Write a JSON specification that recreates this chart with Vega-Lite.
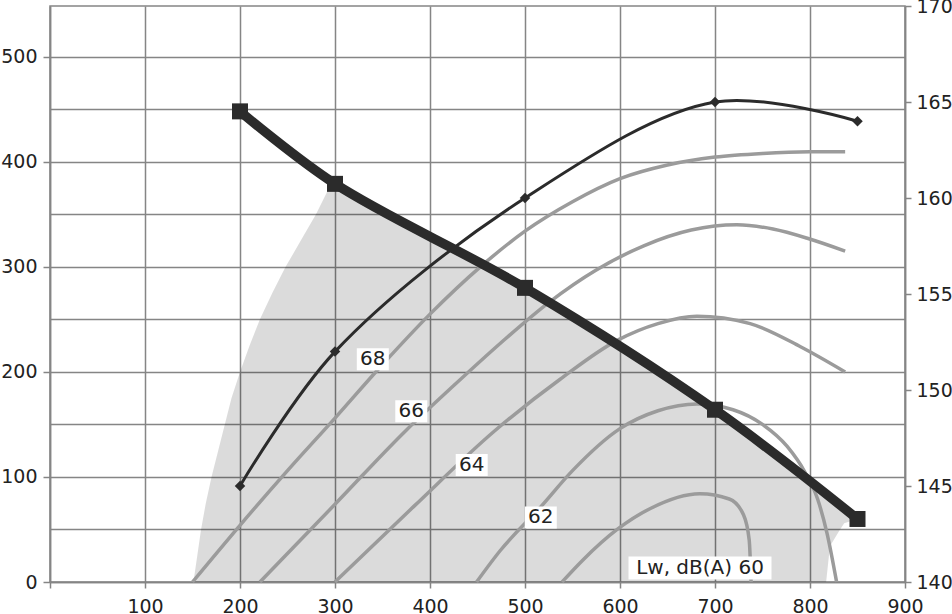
{
  "$schema": "https://vega.github.io/schema/vega-lite/v6.json",
  "width": 855,
  "height": 576,
  "autosize": {"type": "none"},
  "padding": {"left": 50, "top": 6, "right": 47, "bottom": 32},
  "background": "white",
  "config": {
    "view": {"stroke": "#858585", "strokeWidth": 1.5},
    "axis": {
      "labelFont": "DejaVu Sans",
      "labelFontSize": 19,
      "labelColor": "#222222",
      "domainColor": "#858585",
      "domainWidth": 1.5,
      "tickColor": "#858585",
      "tickWidth": 1.5,
      "gridColor": "#858585",
      "gridWidth": 1.5,
      "gridOpacity": 1
    }
  },
  "datasets": {
    "shade": [
      {"x": 151, "top": 0, "bottom": 0},
      {"x": 155, "top": 25, "bottom": 0},
      {"x": 159, "top": 50, "bottom": 0},
      {"x": 164, "top": 75, "bottom": 0},
      {"x": 170, "top": 100, "bottom": 0},
      {"x": 177, "top": 125, "bottom": 0},
      {"x": 184, "top": 150, "bottom": 0},
      {"x": 191, "top": 175, "bottom": 0},
      {"x": 200, "top": 200, "bottom": 0},
      {"x": 210, "top": 225, "bottom": 0},
      {"x": 221, "top": 250, "bottom": 0},
      {"x": 234, "top": 275, "bottom": 0},
      {"x": 248, "top": 300, "bottom": 0},
      {"x": 264, "top": 325, "bottom": 0},
      {"x": 280, "top": 350, "bottom": 0},
      {"x": 292, "top": 372, "bottom": 0},
      {"x": 300, "top": 379, "bottom": 0},
      {"x": 350, "top": 354, "bottom": 0},
      {"x": 400, "top": 328, "bottom": 0},
      {"x": 450, "top": 304, "bottom": 0},
      {"x": 500, "top": 280, "bottom": 0},
      {"x": 550, "top": 254, "bottom": 0},
      {"x": 600, "top": 227, "bottom": 0},
      {"x": 650, "top": 196, "bottom": 0},
      {"x": 700, "top": 164, "bottom": 0},
      {"x": 775, "top": 110, "bottom": 0},
      {"x": 817, "top": 83, "bottom": 0},
      {"x": 821, "top": 80, "bottom": 34},
      {"x": 831, "top": 73, "bottom": 49},
      {"x": 836, "top": 70, "bottom": 56},
      {"x": 850, "top": 60, "bottom": 60}
    ],
    "curves": [
      {"level": "68", "x": 150, "y": 0},
      {"level": "68", "x": 200, "y": 54},
      {"level": "68", "x": 250, "y": 106},
      {"level": "68", "x": 300, "y": 156},
      {"level": "68", "x": 350, "y": 207},
      {"level": "68", "x": 400, "y": 255},
      {"level": "68", "x": 453, "y": 300},
      {"level": "68", "x": 500, "y": 334},
      {"level": "68", "x": 550, "y": 362},
      {"level": "68", "x": 600, "y": 384},
      {"level": "68", "x": 650, "y": 397},
      {"level": "68", "x": 700, "y": 404.5},
      {"level": "68", "x": 750, "y": 408},
      {"level": "68", "x": 800, "y": 409.5},
      {"level": "68", "x": 837, "y": 409.5},
      {"level": "66", "x": 221, "y": 0},
      {"level": "66", "x": 300, "y": 74},
      {"level": "66", "x": 375, "y": 144.5},
      {"level": "66", "x": 425, "y": 187},
      {"level": "66", "x": 475, "y": 228},
      {"level": "66", "x": 525, "y": 266},
      {"level": "66", "x": 575, "y": 297},
      {"level": "66", "x": 625, "y": 320},
      {"level": "66", "x": 675, "y": 335},
      {"level": "66", "x": 723, "y": 340},
      {"level": "66", "x": 761, "y": 336},
      {"level": "66", "x": 798, "y": 327},
      {"level": "66", "x": 837, "y": 315},
      {"level": "64", "x": 300, "y": 0},
      {"level": "64", "x": 383, "y": 72},
      {"level": "64", "x": 467, "y": 143},
      {"level": "64", "x": 537, "y": 193},
      {"level": "64", "x": 597, "y": 230},
      {"level": "64", "x": 640, "y": 246},
      {"level": "64", "x": 681, "y": 253},
      {"level": "64", "x": 737, "y": 246},
      {"level": "64", "x": 790, "y": 224},
      {"level": "64", "x": 837, "y": 200},
      {"level": "62", "x": 449, "y": 0},
      {"level": "62", "x": 474, "y": 30},
      {"level": "62", "x": 517, "y": 72},
      {"level": "62", "x": 550, "y": 106},
      {"level": "62", "x": 600, "y": 146},
      {"level": "62", "x": 640, "y": 163},
      {"level": "62", "x": 681, "y": 169.5},
      {"level": "62", "x": 719, "y": 164},
      {"level": "62", "x": 750, "y": 150},
      {"level": "62", "x": 776, "y": 129},
      {"level": "62", "x": 795, "y": 104},
      {"level": "62", "x": 808, "y": 79},
      {"level": "62", "x": 818, "y": 46},
      {"level": "62", "x": 828, "y": 0},
      {"level": "60", "x": 539, "y": 0},
      {"level": "60", "x": 561, "y": 21},
      {"level": "60", "x": 597, "y": 50},
      {"level": "60", "x": 632, "y": 70},
      {"level": "60", "x": 684, "y": 84},
      {"level": "60", "x": 715, "y": 79},
      {"level": "60", "x": 730, "y": 64},
      {"level": "60", "x": 736, "y": 40},
      {"level": "60", "x": 738, "y": 0}
    ],
    "fan": [
      {"x": 200, "y": 448},
      {"x": 300, "y": 379},
      {"x": 500, "y": 280},
      {"x": 700, "y": 164},
      {"x": 850, "y": 60}
    ],
    "power": [
      {"x": 200, "v": 145},
      {"x": 300, "v": 152},
      {"x": 500, "v": 160},
      {"x": 700, "v": 165},
      {"x": 850, "v": 164}
    ],
    "labels": [
      {"x": 339.8, "y": 212, "text": "68", "kind": "level"},
      {"x": 380.3, "y": 162.6, "text": "66", "kind": "level"},
      {"x": 443.9, "y": 111.4, "text": "64", "kind": "level"},
      {"x": 516.6, "y": 61.4, "text": "62", "kind": "level"},
      {"x": 684.2, "y": 13.3, "text": "Lw, dB(A) 60", "kind": "title"}
    ]
  },
  "layer": [
    {
      "layer": [
        {
          "data": {"name": "shade"},
          "mark": {"type": "area", "fill": "#000000", "fillOpacity": 0.14, "interpolate": "linear"},
          "encoding": {
            "x": {
              "field": "x", "type": "quantitative", "title": null,
              "scale": {"domain": [0, 900], "nice": false, "zero": false},
              "axis": {
                "values": [0, 100, 200, 300, 400, 500, 600, 700, 800, 900],
                "grid": true, "tickSize": 6, "labelPadding": 9,
                "labelFlush": false, "labelOverlap": false,
                "labelExpr": "datum.value == 0 ? '' : datum.label"
              }
            },
            "y": {
              "field": "top", "type": "quantitative", "title": null,
              "scale": {"domain": [0, 548.3], "nice": false, "zero": false},
              "axis": {
                "values": [0, 50, 100, 150, 200, 250, 300, 350, 400, 450, 500],
                "grid": true, "tickSize": 7, "labelPadding": 6,
                "labelOverlap": false,
                "labelExpr": "datum.value % 100 === 0 ? datum.label : ''",
                "tickOpacity": {"condition": {"test": "datum.value % 100 === 0", "value": 1}, "value": 0}
              }
            },
            "y2": {"field": "bottom"}
          }
        },
        {
          "data": {"name": "curves"},
          "mark": {"type": "line", "interpolate": "monotone", "color": "#9b9b9b", "strokeWidth": 3.5},
          "encoding": {
            "x": {"field": "x", "type": "quantitative", "title": null},
            "y": {"field": "y", "type": "quantitative", "title": null},
            "detail": {"field": "level", "type": "nominal"}
          }
        }
      ]
    },
    {
      "layer": [
        {
          "data": {"name": "power"},
          "mark": {
            "type": "line", "interpolate": "catmull-rom", "color": "#2b2b2b", "strokeWidth": 3,
            "point": {"shape": "diamond", "size": 110, "filled": true, "color": "#2b2b2b", "opacity": 1}
          },
          "encoding": {
            "x": {"field": "x", "type": "quantitative", "title": null},
            "y": {
              "field": "v", "type": "quantitative", "title": null,
              "scale": {"domain": [140, 170], "nice": false, "zero": false},
              "axis": {
                "orient": "right",
                "values": [140, 145, 150, 155, 160, 165, 170],
                "grid": false, "tickSize": 6, "labelPadding": 5, "labelOverlap": false
              }
            }
          }
        }
      ]
    },
    {
      "layer": [
        {
          "data": {"name": "fan"},
          "mark": {
            "type": "line", "interpolate": "catmull-rom", "color": "#2b2b2b", "strokeWidth": 9.5,
            "point": {"shape": "square", "size": 256, "filled": true, "color": "#2b2b2b", "opacity": 1}
          },
          "encoding": {
            "x": {"field": "x", "type": "quantitative", "title": null},
            "y": {
              "field": "y", "type": "quantitative", "title": null,
              "scale": {"domain": [0, 548.3], "nice": false, "zero": false},
              "axis": null
            }
          }
        },
        {
          "data": {"name": "labels"},
          "transform": [{"filter": "datum.kind === 'level'"}],
          "mark": {"type": "rect", "fill": "white", "width": 32, "height": 22},
          "encoding": {
            "x": {"field": "x", "type": "quantitative", "title": null},
            "y": {"field": "y", "type": "quantitative", "title": null}
          }
        },
        {
          "data": {"name": "labels"},
          "transform": [{"filter": "datum.kind === 'title'"}],
          "mark": {"type": "rect", "fill": "white", "width": 143, "height": 23},
          "encoding": {
            "x": {"field": "x", "type": "quantitative", "title": null},
            "y": {"field": "y", "type": "quantitative", "title": null}
          }
        },
        {
          "data": {"name": "labels"},
          "mark": {"type": "text", "font": "DejaVu Sans", "fontSize": 20, "color": "#222222", "align": "center", "baseline": "middle"},
          "encoding": {
            "x": {"field": "x", "type": "quantitative", "title": null},
            "y": {"field": "y", "type": "quantitative", "title": null},
            "text": {"field": "text", "type": "nominal"}
          }
        }
      ]
    }
  ],
  "resolve": {"scale": {"y": "independent"}}
}
